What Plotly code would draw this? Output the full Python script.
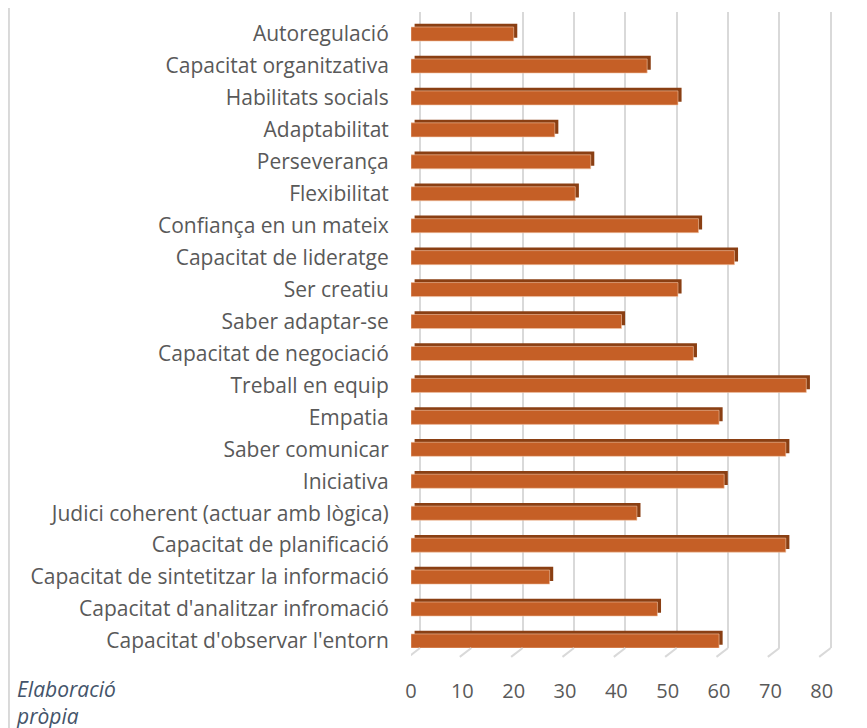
import plotly.graph_objects as go

# Categories listed bottom to top (as drawn on the y axis)
skills = [
    "Capacitat d'observar l'entorn",
    "Capacitat d'analitzar infromació",
    "Capacitat de sintetitzar la informació",
    "Capacitat de planificació",
    "Judici coherent (actuar amb lògica)",
    "Iniciativa",
    "Saber comunicar",
    "Empatia",
    "Treball en equip",
    "Capacitat de negociació",
    "Saber adaptar-se",
    "Ser creatiu",
    "Capacitat de lideratge",
    "Confiança en un mateix",
    "Flexibilitat",
    "Perseverança",
    "Adaptabilitat",
    "Habilitats socials",
    "Capacitat organitzativa",
    "Autoregulació",
]
values = [60, 48, 27, 73, 44, 61, 73, 60, 77, 55, 41, 52, 63, 56, 32, 35, 28, 52, 46, 20]

x_ticks = [0, 10, 20, 30, 40, 50, 60, 70, 80]

front_color = '#C55F26'
side_color = '#8A3F13'
grid_color = '#D9D9D9'
text_color = '#595959'

# 3D look: back wall gridlines sit a bit to the right of the front plane
depth = 1.75

# Darker copy slightly shifted to fake the 3D top/side faces
trace_depth = go.Bar(
    y=skills,
    x=values,
    base=0.7,
    orientation='h',
    width=0.44,
    offset=-0.12,
    marker=dict(color=side_color, line=dict(width=0)),
    cliponaxis=False,
    hoverinfo='skip',
    showlegend=False,
)

trace_front = go.Bar(
    y=skills,
    x=values,
    orientation='h',
    width=0.44,
    offset=-0.22,
    marker=dict(color=front_color, line=dict(color='#F2C4A6', width=0.6)),
    cliponaxis=False,
    showlegend=False,
)

# invisible trace to activate the back-wall axis
trace_grid = go.Scatter(x=[None], y=[skills[0]], xaxis='x2', yaxis='y',
                        mode='markers', showlegend=False, hoverinfo='skip')

# slanted floor lines joining back gridlines to the front ticks
floor_lines = [
    dict(type='line', xref='x', yref='paper',
         x0=t + depth, x1=t - 0.5, y0=0, y1=-0.014,
         line=dict(color=grid_color, width=2))
    for t in x_ticks
]

layout = go.Layout(
    width=867,
    height=728,
    paper_bgcolor='white',
    plot_bgcolor='white',
    barmode='overlay',
    font=dict(family='Open Sans', size=21, color=text_color),
    margin=dict(l=403, r=43, t=4, b=88),
    xaxis=dict(
        range=[0, 82],
        tickvals=x_ticks,
        showgrid=False,
        zeroline=False,
        showline=False,
        ticks='',
        ticklabelstandoff=29,
        tickfont=dict(size=20, color=text_color),
    ),
    xaxis2=dict(
        overlaying='x',
        range=[-depth, 82 - depth],
        tickvals=x_ticks,
        showticklabels=False,
        showgrid=True,
        gridcolor=grid_color,
        gridwidth=2,
        zeroline=False,
        showline=False,
        ticks='',
    ),
    yaxis=dict(
        type='category',
        categoryorder='array',
        categoryarray=skills,
        range=[-0.22, 19.69],
        showgrid=False,
        zeroline=False,
        ticks='outside',
        ticklen=17,
        tickcolor='rgba(0,0,0,0)',
        tickfont=dict(size=21, color=text_color),
    ),
    shapes=[
        dict(type='line', xref='paper', yref='paper',
             x0=-0.955, x1=-0.955, y0=-0.13, y1=1.01,
             line=dict(color=grid_color, width=2)),
    ] + floor_lines,
    annotations=[
        dict(text='<i>Elaboració<br>pròpia</i>', xref='paper', yref='paper',
             x=-0.943, y=-0.04, xanchor='left', yanchor='top',
             align='left', showarrow=False,
             font=dict(size=21, color='#44546A')),
    ],
)

fig = go.Figure(data=[trace_grid, trace_depth, trace_front], layout=layout)
fig.write_html("out.html")
